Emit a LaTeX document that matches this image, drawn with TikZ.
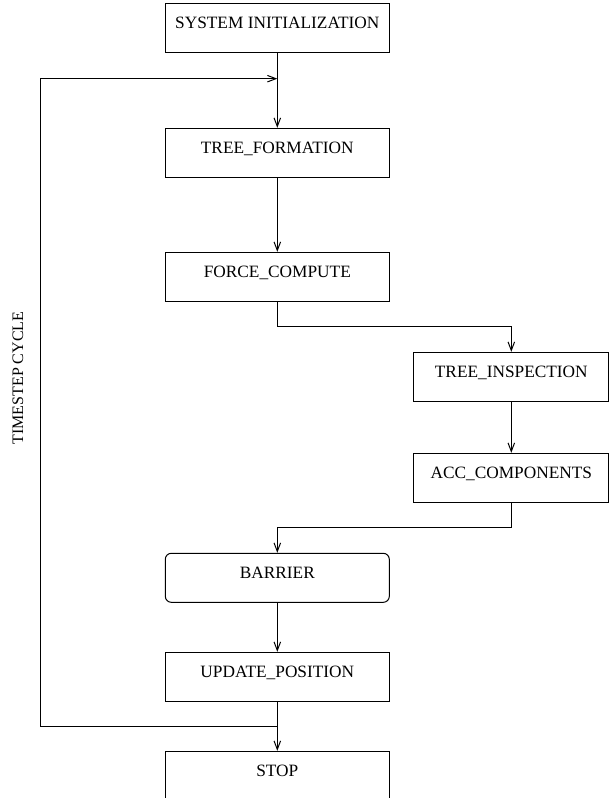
\documentclass[tikz,border=0pt]{standalone}
\usepackage{fontspec}
\setmainfont{Liberation Serif}
\usetikzlibrary{positioning}
\usetikzlibrary{arrows.meta}
\usetikzlibrary{calc}

\begin{document}
\begin{tikzpicture}[x=1pt,y=-1pt,
    font=\fontsize{17.3}{20}\selectfont,
    stage/.style={draw, line width=1pt, minimum width=224pt, inner ysep=0pt,
        text height=25pt, text depth=24pt},
    sidestage/.style={stage, minimum width=195pt},
    waitstage/.style={stage, rounded corners=6pt},
    flow/.style={line width=1pt, -{Straight Barb[length=8.5pt,width=6.5pt]}}]

    \useasboundingbox (0,0) rectangle (610,798);

    % main column
    \node[stage] (init) at (277.3,27.8) {SYSTEM INITIALIZATION};
    \node[stage, below=75pt of init] (treeform) {TREE\_FORMATION};
    \node[stage, below=74pt of treeform] (force) {FORCE\_COMPUTE};
    \node[sidestage, below=50pt of force, xshift=234pt] (inspect) {TREE\_INSPECTION};
    \node[sidestage, below=51pt of inspect] (acc) {ACC\_COMPONENTS};
    \node[waitstage, below=50pt of acc, xshift=-234pt] (barrier) {BARRIER};
    \node[stage, below=49pt of barrier] (update) {UPDATE\_POSITION};
    \node[stage, below=49pt of update] (stop) {STOP};

    \coordinate (looptop) at ($(init.south)!0.345!(treeform.north)$);
    \coordinate (loopbot) at ($(update.south)!0.5!(stop.north)$);
    \coordinate (cyclex) at (40,0);

    \draw[flow] (init) -- (treeform);
    \draw[flow] (treeform) -- (force);
    \draw[flow] (force.south) -- ++(0,24.5) -| (inspect.north);
    \draw[flow] (inspect) -- (acc);
    \draw[flow] (acc.south) -- ++(0,25) -| (barrier.north);
    \draw[flow] (barrier) -- (update);
    \draw[flow] (update) -- (stop);

    % timestep loop
    \draw[flow] (loopbot) -- (loopbot -| cyclex) -- (looptop -| cyclex) -- (looptop);
    \node[rotate=90, font=\fontsize{16}{19}\selectfont] (cycle) at (18,378) {TIMESTEP CYCLE};
\end{tikzpicture}
\end{document}
